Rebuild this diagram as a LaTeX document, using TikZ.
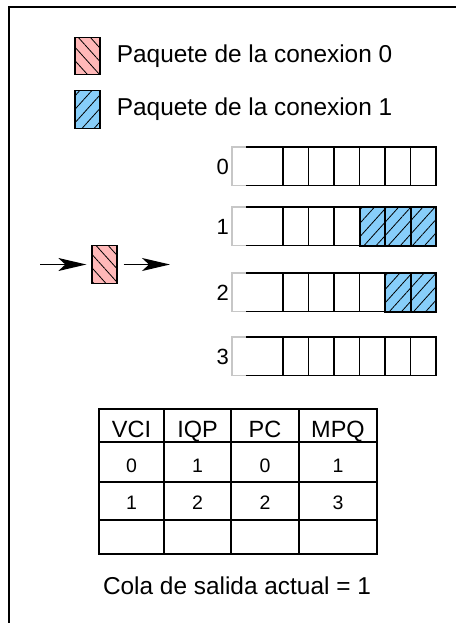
\documentclass[tikz,border=0pt]{standalone}
\usepackage{fontspec}
\setmainfont{Liberation Sans}
\usetikzlibrary{positioning, arrows.meta, patterns.meta}
\definecolor{pktred}{RGB}{255,184,184}
\definecolor{pktblue}{RGB}{135,206,250}

\begin{document}
\begin{tikzpicture}[x=1pt,y=-1pt,->,>={Stealth[length=28pt,width=13pt,inset=7pt]}]
  % styles
  \tikzstyle{pkt} = [rectangle,draw=black,line width=1.3pt,inner sep=0pt,minimum width=25pt,minimum height=37.5pt];
  \tikzstyle{cell} = [rectangle,draw=black,line width=1.3pt,inner sep=0pt,outer sep=0pt,minimum width=25.5pt,minimum height=38.5pt,anchor=north west];
  \tikzstyle{conn0} = [fill=pktred,postaction={pattern={Lines[angle=-48,distance=9pt,line width=0.8pt]}}];
  \tikzstyle{conn1} = [fill=pktblue,postaction={pattern={Lines[angle=48,distance=9pt,line width=0.8pt]}}];
  \tikzstyle{txt} = [inner sep=0pt,font=\fontsize{24.4}{29}\selectfont];
  \tikzstyle{qnum} = [inner sep=0pt,font=\fontsize{22}{26}\selectfont];
  \tikzstyle{hdr} = [inner sep=0pt,font=\fontsize{23.5}{28}\selectfont];
  \tikzstyle{num} = [inner sep=0pt,font=\fontsize{19.5}{23}\selectfont];

  \useasboundingbox (0,0) rectangle (456,623);
  \draw[-,line width=1.6pt] (9,623) -- (9,7) -- (456,7);

  % legend
  \node[pkt,conn0] (leg0) at (87.5,56) {};
  \node[txt,right=16pt of leg0] (leg0txt) {Paquete de la conexion 0};
  \node[pkt,conn1] (leg1) at (87.5,109.5) {};
  \node[txt,right=16pt of leg1] (leg1txt) {Paquete de la conexion 1};

  % queues
  \foreach \q/\top/\nblue in {0/147/0,1/207/3,2/273/2,3/337/0} {
    \pgfmathtruncatemacro\first{7-\nblue}
    \foreach \s in {1,...,6} {
      \ifnum\s<\first
        \node[cell] (q\q-\s) at ({283+(\s-1)*25.5},\top) {};
      \else
        \node[cell,conn1,line width=2pt] (q\q-\s) at ({283+(\s-1)*25.5},\top) {};
      \fi
    }
    \draw[-,line width=1.3pt] (q\q-1.north west) -- ++(-37,0) coordinate (h\q);
    \draw[-,line width=1.3pt] (q\q-1.south west) -- ++(-37,0);
    \draw[-,black!22,line width=1.2pt] (h\q) -- ++(-14,0) -- ++(0,38.5) -- ++(14,0);
    \node[qnum,anchor=east] (lbl\q) at (229,\top+20) {\q};
  }

  % incoming packet
  \node[pkt,conn0] (pkt) at (104.5,264.5) {};
  \coordinate (in) at (40,264.5);
  \coordinate (out) at (170,264.5);
  \draw[line width=1.3pt,shorten >=5pt] (in) -- (pkt);
  \draw[line width=1.3pt,shorten <=6pt] (pkt) -- (out);

  % table
  \foreach \x in {164,231,299}
    \draw[-,line width=1.2pt] (\x,409) -- (\x,554);
  \foreach \y in {442,482,520}
    \draw[-,line width=1.2pt] (99,\y) -- (377,\y);
  \draw[-,line width=2.5pt] (99,409) rectangle (377,554);
  \foreach \x/\t in {131.5/VCI,197.5/IQP,265/PC,338/MPQ}
    \node[hdr,anchor=base] (hd-\t) at (\x,437.5) {\t};
  \foreach \x/\a/\b [count=\c] in {131.5/0/1,197.5/1/2,265/0/2,338/1/3} {
    \node[num,anchor=base] (ra-\c) at (\x,472) {\a};
    \node[num,anchor=base] (rb-\c) at (\x,509) {\b};
  }
  \node[txt,anchor=base] (salida) at (237,594) {Cola de salida actual = 1};
\end{tikzpicture}
\end{document}
